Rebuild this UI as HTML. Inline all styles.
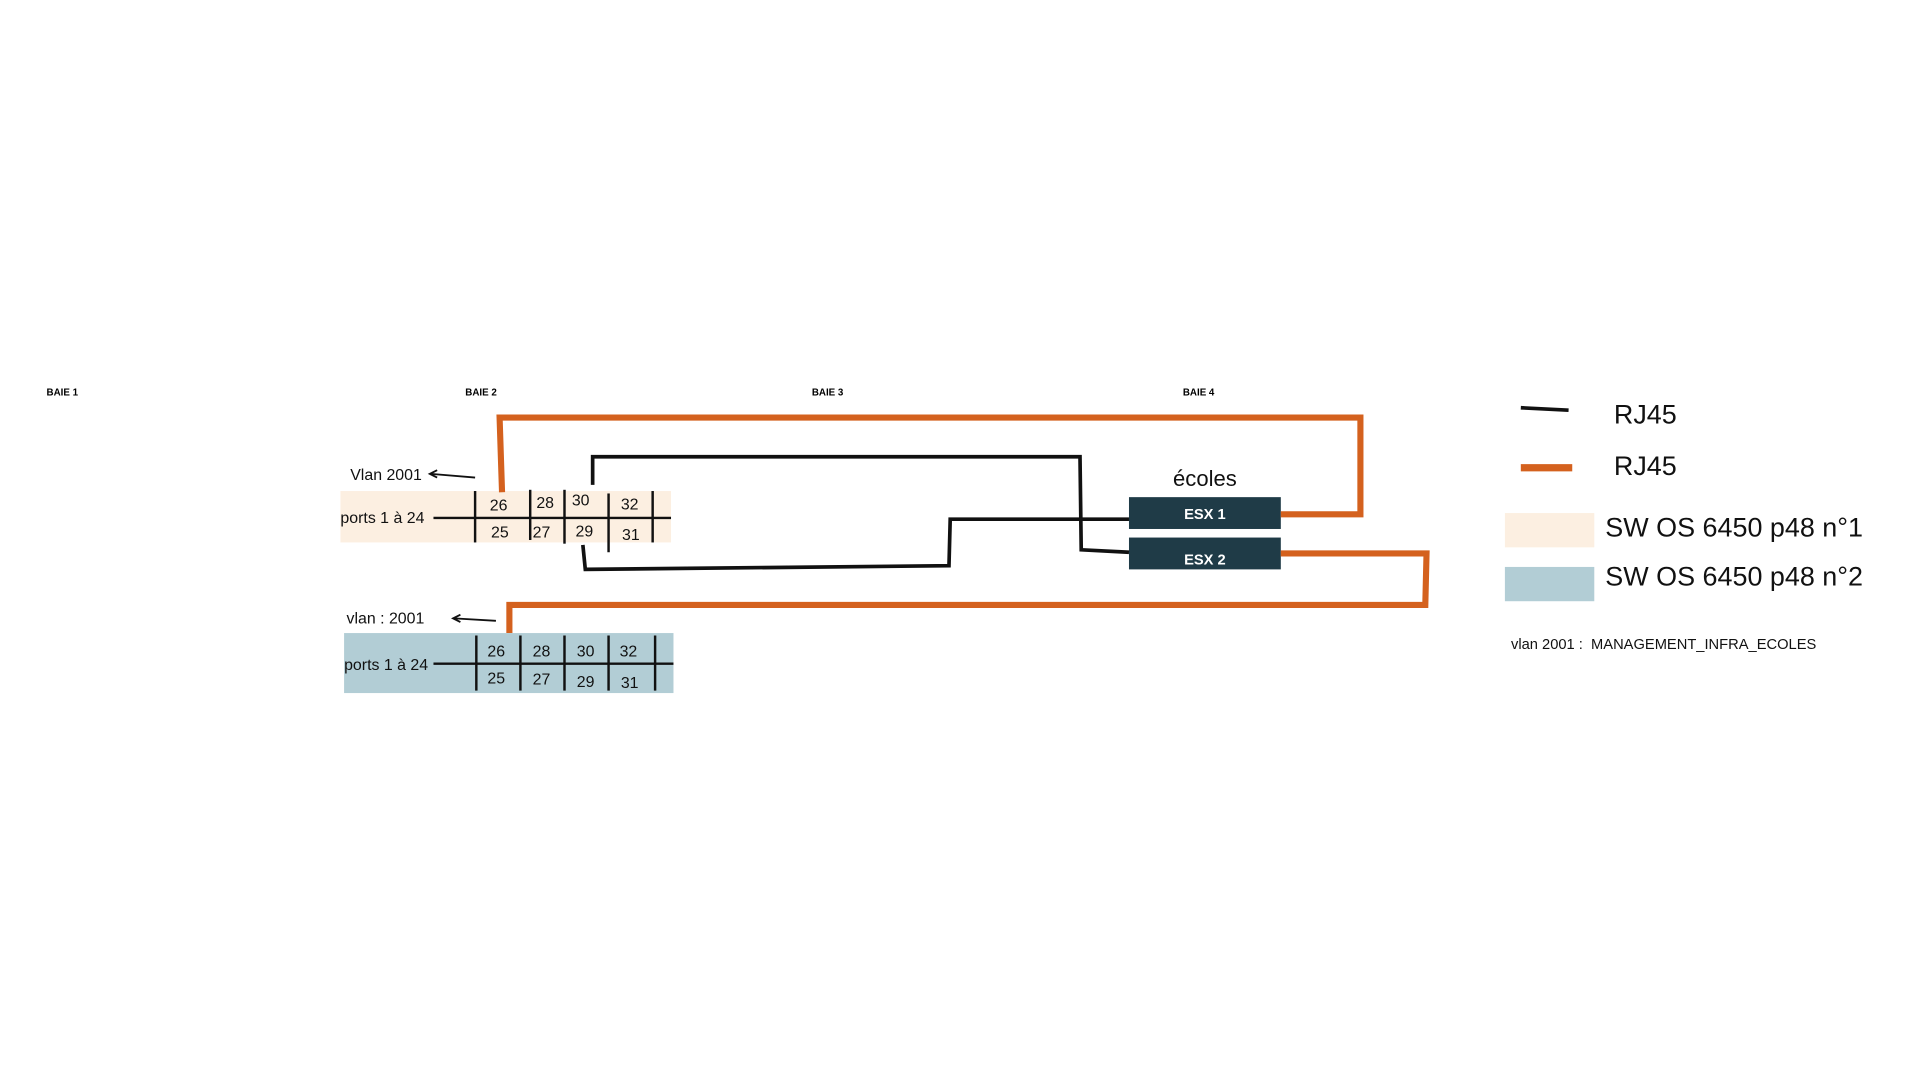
<!DOCTYPE html>
<html><head><meta charset="utf-8"><style>html,body{margin:0;padding:0;background:#fff;}svg{display:block}</style></head>
<body>
<svg width="1920" height="1080" viewBox="0 0 1568 882" preserveAspectRatio="none" xmlns="http://www.w3.org/2000/svg" font-family="'Liberation Sans', sans-serif">
<rect width="1568" height="882" fill="#fff"/>
<g font-size="8" font-weight="bold" fill="#000">
<text x="38" y="323">BAIE 1</text><text x="380" y="323">BAIE 2</text><text x="663" y="323">BAIE 3</text><text x="966" y="323">BAIE 4</text>
</g>
<!-- switch 1 -->
<rect x="278" y="401" width="270" height="42" fill="#fcefe1"/>
<g stroke="#111" stroke-width="2">
<line x1="354" y1="423" x2="548" y2="423"/>
<line x1="388" y1="401" x2="388" y2="443"/><line x1="433" y1="400" x2="433" y2="441"/>
<line x1="461" y1="400" x2="461" y2="444"/><line x1="497" y1="403" x2="497" y2="451"/>
<line x1="533" y1="401" x2="533" y2="443"/>
</g>
<g font-size="13" fill="#111">
<text x="278" y="427">ports 1 à 24</text>
<text x="400" y="417">26</text><text x="438" y="415">28</text><text x="467" y="413">30</text><text x="507" y="416">32</text>
<text x="401" y="439">25</text><text x="435" y="439">27</text><text x="470" y="438">29</text><text x="508" y="441">31</text>
<text x="286" y="392">Vlan 2001</text>
<text x="283" y="509">vlan : 2001</text>
</g>
<!-- switch 2 -->
<rect x="281" y="517" width="269" height="49" fill="#b2cdd5"/>
<g stroke="#111" stroke-width="2">
<line x1="354" y1="542" x2="550" y2="542"/>
<line x1="389" y1="519" x2="389" y2="564"/><line x1="425" y1="519" x2="425" y2="564"/>
<line x1="461" y1="519" x2="461" y2="564"/><line x1="497" y1="519" x2="497" y2="564"/>
<line x1="535" y1="519" x2="535" y2="564"/>
</g>
<g font-size="13" fill="#111">
<text x="281" y="547">ports 1 à 24</text>
<text x="398" y="536">26</text><text x="435" y="536">28</text><text x="471" y="536">30</text><text x="506" y="536">32</text>
<text x="398" y="558">25</text><text x="435" y="559">27</text><text x="471" y="561">29</text><text x="507" y="562">31</text>
</g>
<!-- arrows -->
<g stroke="#111" stroke-width="1.5" fill="none">
<line x1="388" y1="390" x2="352" y2="387"/><path d="M357,384 L351,387 L357,390"/>
<line x1="405" y1="507" x2="371" y2="505"/><path d="M376,502 L370,505 L376,508"/>
</g>
<!-- ESX -->
<text x="984" y="397" font-size="18" text-anchor="middle" fill="#111">écoles</text>
<rect x="922" y="406" width="124" height="26" fill="#1f3b47"/>
<rect x="922" y="439" width="124" height="26" fill="#1f3b47"/>
<text x="984" y="424" font-size="12" font-weight="bold" fill="#fff" text-anchor="middle">ESX 1</text>
<text x="984" y="461" font-size="12" font-weight="bold" fill="#fff" text-anchor="middle">ESX 2</text>
<!-- orange -->
<g stroke="#d4611e" stroke-width="5" fill="none">
<path d="M410,402 L408,341 L1111,341 L1111,420 L1046,420"/>
<path d="M416,517 L416,494 L1164,494 L1165,452 L1046,452"/>
</g>
<!-- black -->
<g stroke="#111" stroke-width="3" fill="none">
<path d="M484,396 L484,373 L882,373 L883,449 L922,451"/>
<path d="M476,445 L478,465 L775,462 L776,424 L922,424"/>
</g>
<!-- legend -->
<line x1="1242" y1="333" x2="1281" y2="335" stroke="#111" stroke-width="3"/>
<text x="1318" y="346" font-size="22" fill="#111">RJ45</text>
<line x1="1242" y1="382" x2="1284" y2="382" stroke="#d4611e" stroke-width="6"/>
<text x="1318" y="388" font-size="22" fill="#111">RJ45</text>
<rect x="1229" y="419" width="73" height="28" fill="#fcefe1"/>
<text x="1311" y="438" font-size="22" fill="#111">SW OS 6450 p48 n°1</text>
<rect x="1229" y="463" width="73" height="28" fill="#b2cdd5"/>
<text x="1311" y="478" font-size="22" fill="#111">SW OS 6450 p48 n°2</text>
<text x="1234" y="530" font-size="12" fill="#111" xml:space="preserve">vlan 2001 :  MANAGEMENT_INFRA_ECOLES</text>
</svg>
</body></html>
